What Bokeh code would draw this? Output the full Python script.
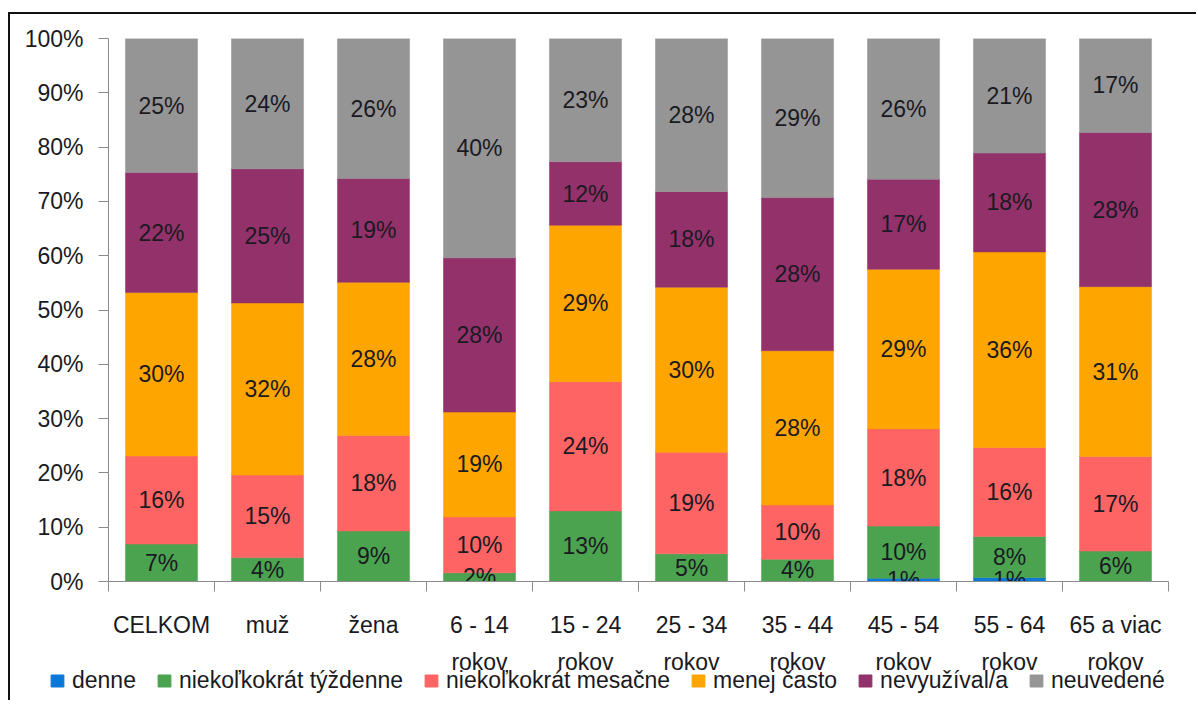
from bokeh.plotting import figure
from bokeh.layouts import column
from bokeh.models import FixedTicker, Legend, LegendItem, ColumnDataSource, Range1d
from bokeh.core.properties import value
from bokeh.embed import file_html
from bokeh.resources import INLINE

categories = ["CELKOM", "muž", "žena", "6 - 14\nrokov", "15 - 24\nrokov", "25 - 34\nrokov",
              "35 - 44\nrokov", "45 - 54\nrokov", "55 - 64\nrokov", "65 a viac\nrokov"]
series = ["denne", "niekoľkokrát týždenne", "niekoľkokrát mesačne", "menej často", "nevyužíval/a", "neuvedené"]
denne = [0, 0, 0, 0, 0, 0, 0, 0.6, 0.7, 0]
tyzdenne = [6.9, 4.4, 9.3, 1.6, 13.0, 5.1, 4.1, 9.6, 7.6, 5.6]
mesacne = [16.2, 15.2, 17.6, 10.3, 23.8, 18.7, 10.0, 17.9, 16.4, 17.4]
menej = [30.1, 31.7, 28.2, 19.3, 28.8, 30.4, 28.4, 29.4, 36.0, 31.3]
nevyuzival = [22.1, 24.7, 19.1, 28.4, 11.7, 17.6, 28.2, 16.6, 18.2, 28.4]
neuvedene = [24.7, 24.0, 25.8, 40.4, 22.7, 28.2, 29.3, 25.9, 21.1, 17.3]
colors = ["#0a78d8", "#4ba34f", "#ff6464", "#ffa500", "#93316a", "#959595"]
y_ticks = [0, 10, 20, 30, 40, 50, 60, 70, 80, 90, 100]

FONT = "Liberation Sans"
TXT = "#1a1a22"

values = [denne, tyzdenne, mesacne, menej, nevyuzival, neuvedene]
keys = ["s%d" % i for i in range(len(series))]
xs = [i + 0.5 for i in range(len(categories))]
data = {"x": xs}
for k, v in zip(keys, values):
    data[k] = v
src = ColumnDataSource(data)

p = figure(width=1186, height=664, output_backend="svg", toolbar_location=None,
           x_range=Range1d(0, len(categories)), y_range=Range1d(0, 100),
           min_border_left=98, min_border_right=28, min_border_top=24, min_border_bottom=86)
p.frame_align = False
p.outline_line_color = None
p.xgrid.visible = False
p.ygrid.visible = False
p.background_fill_color = "white"
p.border_fill_color = "white"

rs = p.vbar_stack(keys, x="x", width=0.68, color=colors, line_color=colors, line_width=0.5, source=src)

# segment labels
lx, ly, lt = [], [], []
for i in range(len(categories)):
    base = 0.0
    for v in values:
        val = v[i]
        if val > 0:
            lx.append(xs[i])
            ly.append(base + val / 2.0)
            lt.append("%d%%" % int(val + 0.5))
        base += val
p.text(x=lx, y=ly, text=lt, text_font=value(FONT), text_font_size="23px",
       text_color=TXT, text_align="center", text_baseline="middle")

# y axis
ya = p.yaxis[0]
ya.ticker = FixedTicker(ticks=y_ticks)
ya.major_label_overrides = {t: "%d%%" % t for t in y_ticks}
ya.major_label_text_font = FONT
ya.major_label_text_font_size = "23px"
ya.major_label_text_color = TXT
ya.major_tick_out = 10
ya.major_tick_in = 0
ya.minor_tick_out = 0
ya.minor_tick_in = 0
ya.axis_line_color = "#8c8c8c"
ya.major_tick_line_color = "#8c8c8c"
ya.major_label_standoff = 15

# x axis
xa = p.xaxis[0]
xa.ticker = FixedTicker(ticks=xs, minor_ticks=list(range(len(categories) + 1)))
xa.major_label_overrides = {x: c for x, c in zip(xs, categories)}
xa.major_label_text_font = FONT
xa.major_label_text_font_size = "23px"
xa.major_label_text_color = TXT
xa.major_label_text_line_height = 1.45
xa.major_tick_out = 0
xa.major_tick_in = 0
xa.minor_tick_out = 10
xa.minor_tick_in = 0
xa.minor_tick_line_color = "#8c8c8c"
xa.axis_line_color = "#8c8c8c"
xa.major_label_standoff = 20

# legend strip (its swatch renderers lie outside its visible range)
p2 = figure(width=1186, height=34, output_backend="svg", toolbar_location=None,
            x_range=Range1d(0, len(categories)), y_range=Range1d(200, 201),
            x_axis_location=None, y_axis_location=None,
            min_border_left=0, min_border_right=0, min_border_top=0, min_border_bottom=0)
p2.frame_align = False
p2.outline_line_color = None
p2.xgrid.visible = False
p2.ygrid.visible = False
p2.background_fill_alpha = 0
p2.border_fill_alpha = 0
p2.styles = {"margin-top": "-12px"}
swatches = p2.vbar_stack(keys, x="x", width=0.68, color=colors, source=src)

legend = Legend(items=[LegendItem(label=s, renderers=[r]) for s, r in zip(series, swatches)],
                orientation="horizontal", location=(39, 6),
                padding=0, margin=0, spacing=20, label_standoff=7,
                glyph_width=16, glyph_height=15, label_height=15,
                label_text_font=FONT, label_text_font_size="23px", label_text_color=TXT,
                border_line_color=None, background_fill_alpha=0.0)
p2.add_layout(legend)

layout = column(p, p2, spacing=0,
                styles={"margin-top": "12px", "margin-left": "8px",
                        "border-top": "2px solid #111", "border-left": "2px solid #111"})

open("out.html", "w").write(file_html(layout, INLINE))
